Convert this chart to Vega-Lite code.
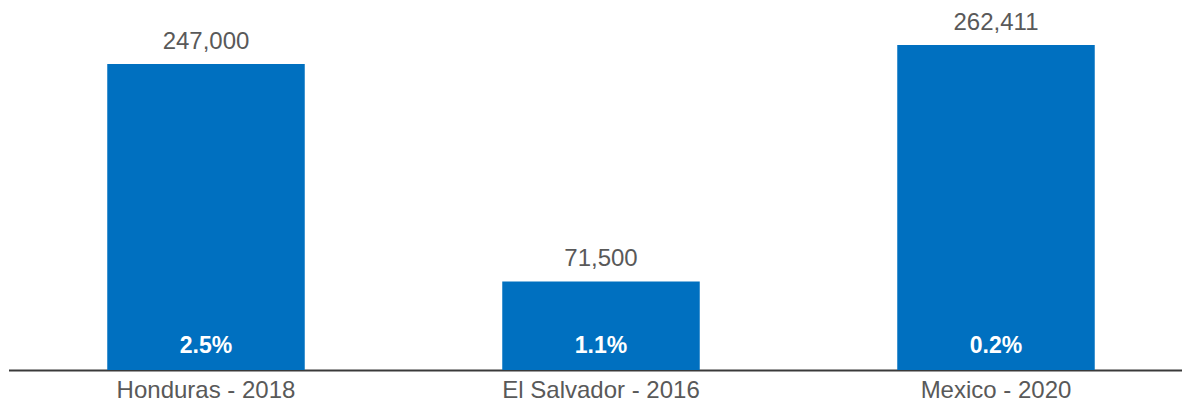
{
  "$schema": "https://vega.github.io/schema/vega-lite/v6.json",
  "autosize": "none",
  "width": 1185,
  "height": 370,
  "padding": {"left": 8.5, "top": 0, "right": 0, "bottom": 33},
  "background": "white",
  "config": {"view": {"stroke": null}, "font": "Liberation Sans"},
  "data": {"values": [
    {"country": "Honduras - 2018", "value": 247000, "label": "247,000", "pct": "2.5%"},
    {"country": "El Salvador - 2016", "value": 71500, "label": "71,500", "pct": "1.1%"},
    {"country": "Mexico - 2020", "value": 262411, "label": "262,411", "pct": "0.2%"}
  ]},
  "encoding": {
    "x": {"field": "country", "type": "nominal", "sort": null,
      "scale": {"paddingInner": 0.5, "paddingOuter": 0.25},
      "axis": {"title": null, "labelAngle": 0, "labelFontSize": 24, "labelColor": "#595959", "labelFont": "Liberation Sans", "labelLimit": 0, "ticks": false, "domainColor": "#3a3a3a", "domainWidth": 2, "labelPadding": 8}}
  },
  "layer": [
    {"mark": {"type": "bar", "color": "#0070C0"},
     "encoding": {"y": {"field": "value", "type": "quantitative", "scale": {"domain": [0, 298750], "nice": false}, "axis": null}}},
    {"mark": {"type": "text", "fontSize": 24, "color": "#595959", "baseline": "alphabetic", "dy": -15},
     "encoding": {"y": {"field": "value", "type": "quantitative"}, "text": {"field": "label"}}},
    {"mark": {"type": "text", "fontSize": 23, "fontWeight": "bold", "color": "white", "baseline": "alphabetic", "dy": -17},
     "encoding": {"y": {"datum": 0, "type": "quantitative"}, "text": {"field": "pct"}}}
  ]
}
